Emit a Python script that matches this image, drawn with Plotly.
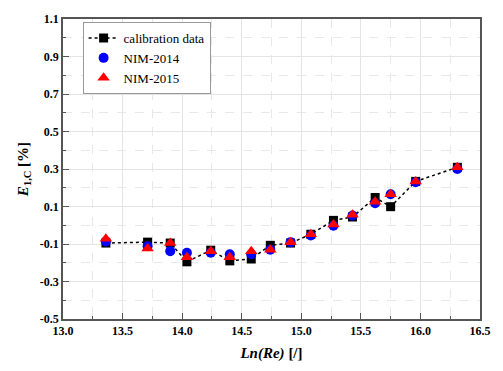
import plotly.graph_objects as go

ln_re = [13.36, 13.71, 13.90, 14.04, 14.24, 14.40, 14.58, 14.74, 14.91,
         15.08, 15.27, 15.43, 15.62, 15.75, 15.96, 16.31]
calib = [-0.095, -0.09, -0.095, -0.195, -0.133, -0.19, -0.18, -0.107, -0.095,
         -0.048, 0.026, 0.044, 0.148, 0.099, 0.234, 0.309]
nim2014 = [-0.086, -0.112, -0.138, -0.147, -0.147, -0.155, -0.155, -0.13, -0.09,
           -0.055, -0.003, 0.052, 0.118, 0.165, 0.229, 0.30]
nim2015 = [-0.072, -0.124, -0.095, -0.17, -0.138, -0.17, -0.138, -0.13, -0.09,
           -0.048, 0.004, 0.056, 0.125, 0.165, 0.234, 0.309]

x_ticks = [13.0, 13.5, 14.0, 14.5, 15.0, 15.5, 16.0, 16.5]
y_ticks = [-0.5, -0.3, -0.1, 0.1, 0.3, 0.5, 0.7, 0.9, 1.1]

font = "Liberation Serif"

fig = go.Figure()
fig.add_trace(go.Scatter(x=ln_re, y=calib, mode="lines+markers", name="calibration data",
                         line=dict(color="black", dash="dot", width=1.5),
                         marker=dict(symbol="square", size=9, color="black")))
fig.add_trace(go.Scatter(x=ln_re, y=nim2014, mode="markers", name="NIM-2014",
                         marker=dict(symbol="circle", size=10, color="#0000ff")))
fig.add_trace(go.Scatter(x=ln_re, y=nim2015, mode="markers", name="NIM-2015",
                         marker=dict(symbol="triangle-up", size=11, color="#ff0000")))

axis_common = dict(showline=True, linecolor="#555555", linewidth=1.5, mirror=True,
                   ticks="inside", tickcolor="#555555", ticklen=6,
                   gridcolor="#e4e4e4", gridwidth=1, zeroline=False,
                   tickfont=dict(family=font, size=12, color="black", weight="bold"))

fig.update_xaxes(range=[13.0, 16.5], tickvals=x_ticks,
                 ticktext=[f"{v:.1f}" for v in x_ticks],
                 minor=dict(dtick=0.25, tick0=13.0, ticks="inside", ticklen=3,
                            tickcolor="#555555", showgrid=True,
                            gridcolor="#e8e8e8", griddash="dash"),
                 title=dict(text="<i>Ln(Re)</i> [/]", standoff=10,
                            font=dict(family=font, size=15, color="black", weight="bold")),
                 **axis_common)
fig.update_yaxes(range=[-0.5, 1.1], tickvals=y_ticks,
                 ticktext=[f"{v:.1f}" for v in y_ticks],
                 minor=dict(dtick=0.1, tick0=-0.5, ticks="inside", ticklen=3,
                            tickcolor="#555555", showgrid=True,
                            gridcolor="#e8e8e8", griddash="dash"),
                 title=dict(text="<i>E</i><sub>1,C</sub> [%]", standoff=8,
                            font=dict(family=font, size=15, color="black", weight="bold")),
                 **axis_common)

fig.update_layout(width=503, height=371,
                  margin=dict(l=63, r=19, t=15, b=48),
                  plot_bgcolor="white", paper_bgcolor="white",
                  font=dict(family=font, color="black"),
                  legend=dict(x=0.047, y=0.99, xanchor="left", yanchor="top",
                              bgcolor="white", bordercolor="#999999", borderwidth=1,
                              font=dict(family=font, size=13, color="black"),
                              tracegroupgap=0, itemwidth=30))

fig.write_html("out.html")
